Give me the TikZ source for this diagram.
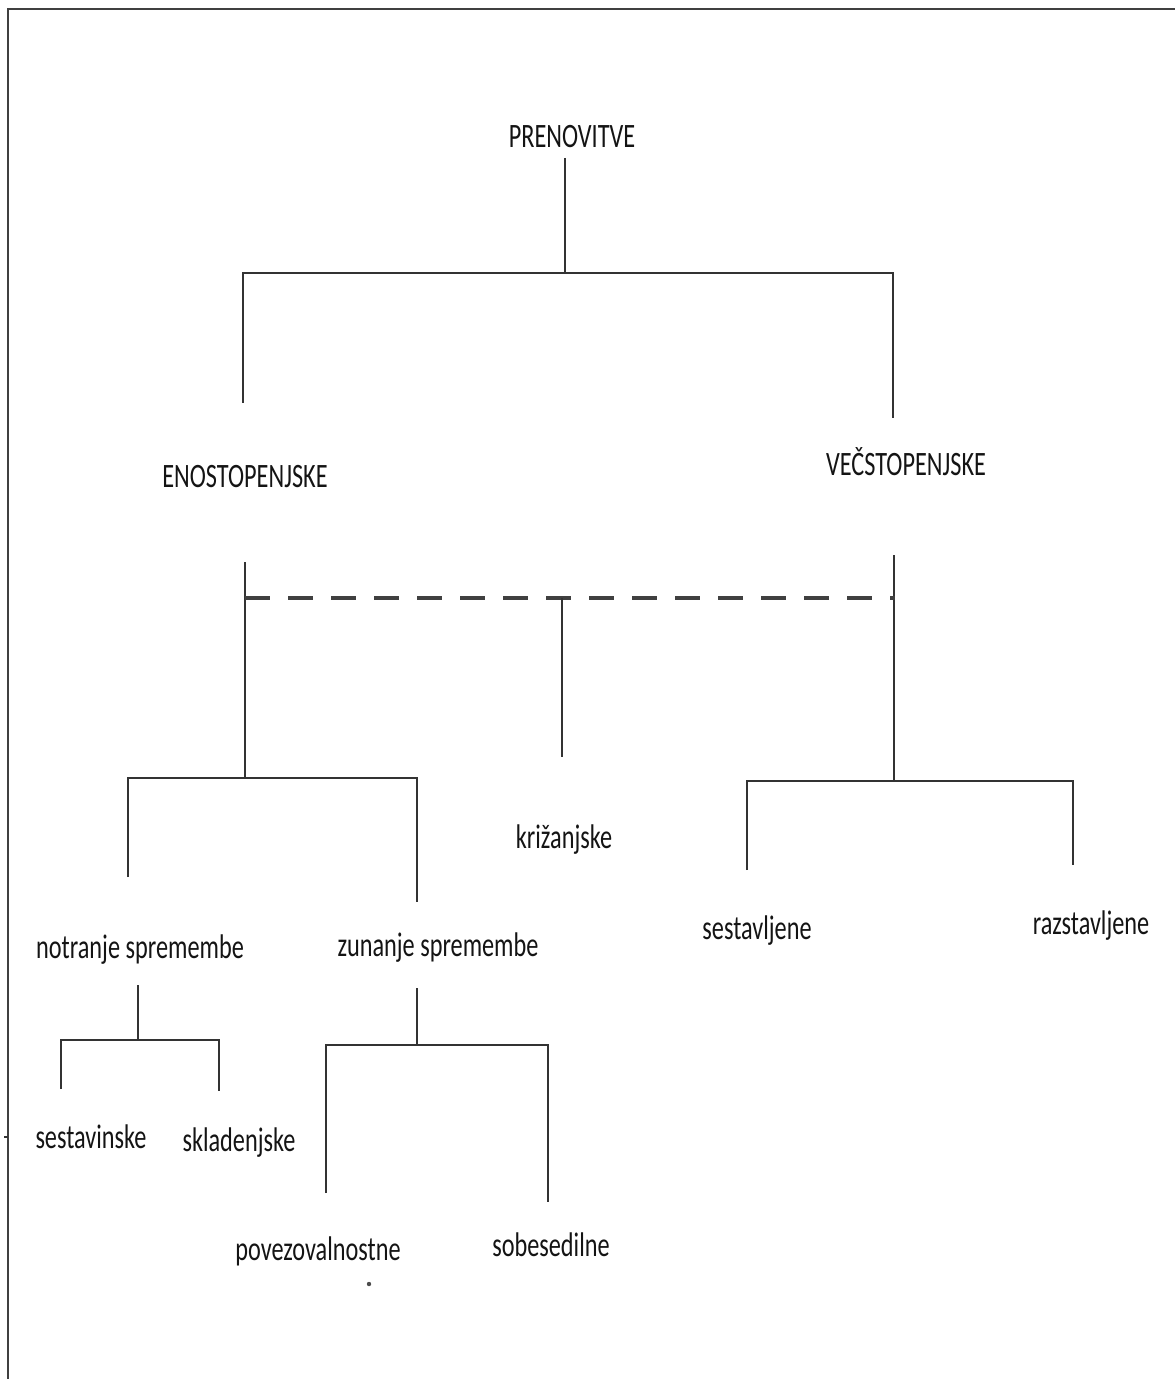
\documentclass[tikz,border=0pt]{standalone}
\usepackage{fontspec}
\setmainfont{Carlito}[FakeStretch=0.71]
\begin{document}
\begin{tikzpicture}[x=0.5pt,y=-0.5pt,
  lbl/.style={anchor=base, inner sep=0pt, font=\fontsize{17.1}{20}\selectfont, text=black!92},
  link/.style={draw=black!80, line width=0.9pt},
  dlink/.style={draw=black!75, line width=1.7pt, dash pattern=on 12.5pt off 9pt},
  frame/.style={draw=black!75, line width=1.4pt}]
\useasboundingbox (0,0) rectangle (1175,1379);
% frame (top and left edges)
\coordinate (fbl) at (8,1379);
\coordinate (ftl) at (8,9);
\coordinate (ftr) at (1175,9);
\draw[frame] (fbl) -- (ftl) -- (ftr);
\coordinate (tickA) at (4,1137);
\coordinate (tickB) at (8,1137);
\draw[link] (tickA) -- (tickB);

% labels
\node[lbl] (root) at (572,148) {PRENOVITVE};
\node[lbl] (eno) at (245,487) {ENOSTOPENJSKE};
\node[lbl] (vec) at (906,475) {VEČSTOPENJSKE};
\node[lbl] (kriz) at (564,848) {križanjske};
\node[lbl] (notr) at (140,958) {notranje spremembe};
\node[lbl] (zun) at (438,956) {zunanje spremembe};
\node[lbl] (sest) at (757,939) {sestavljene};
\node[lbl] (razs) at (1091,934) {razstavljene};
\node[lbl] (sestv) at (91,1148) {sestavinske};
\node[lbl] (sklad) at (239,1151) {skladenjske};
\node[lbl] (povez) at (318,1260) {povezovalnostne};
\node[lbl] (sobes) at (551,1256) {sobesedilne};
\fill[black!70] (369,1284) circle (1.1pt);

% level 1
\coordinate (r0) at (565,158);
\coordinate (r1) at (565,273);
\coordinate (hL) at (243,273);
\coordinate (hR) at (893,273);
\coordinate (eTop) at (243,403);
\coordinate (vTop) at (893,418);
\draw[link] (r0) -- (r1);
\draw[link] (eTop) -- (hL) -- (hR) -- (vTop);

% level 2
\coordinate (e0) at (245,562);
\coordinate (e1) at (245,778);
\coordinate (dL) at (245,598);
\coordinate (dM) at (562,598);
\coordinate (dR) at (895,598);
\coordinate (k1) at (562,757);
\coordinate (v0) at (894,555);
\coordinate (v1) at (894,781);
\draw[link] (e0) -- (e1);
\draw[link] (v0) -- (v1);
\draw[dlink] (dL) -- (dR);
\draw[link] (dM) -- (k1);

% enostopenjske children
\coordinate (nA) at (128,877);
\coordinate (nB) at (128,778);
\coordinate (zB) at (417,778);
\coordinate (zA) at (417,902);
\draw[link] (nA) -- (nB) -- (zB) -- (zA);

% vecstopenjske children
\coordinate (sA) at (747,870);
\coordinate (sB) at (747,781);
\coordinate (rB) at (1073,781);
\coordinate (rA) at (1073,865);
\draw[link] (sA) -- (sB) -- (rB) -- (rA);

% notranje children
\coordinate (n0) at (138,985);
\coordinate (n1) at (138,1040);
\coordinate (n2) at (61,1089);
\coordinate (n3) at (61,1040);
\coordinate (n4) at (219,1040);
\coordinate (n5) at (219,1091);
\draw[link] (n0) -- (n1);
\draw[link] (n2) -- (n3) -- (n4) -- (n5);

% zunanje children
\coordinate (z0) at (417,988);
\coordinate (z1) at (417,1045);
\coordinate (z2) at (326,1193);
\coordinate (z3) at (326,1045);
\coordinate (z4) at (548,1045);
\coordinate (z5) at (548,1202);
\draw[link] (z0) -- (z1);
\draw[link] (z2) -- (z3) -- (z4) -- (z5);
\end{tikzpicture}
\end{document}
